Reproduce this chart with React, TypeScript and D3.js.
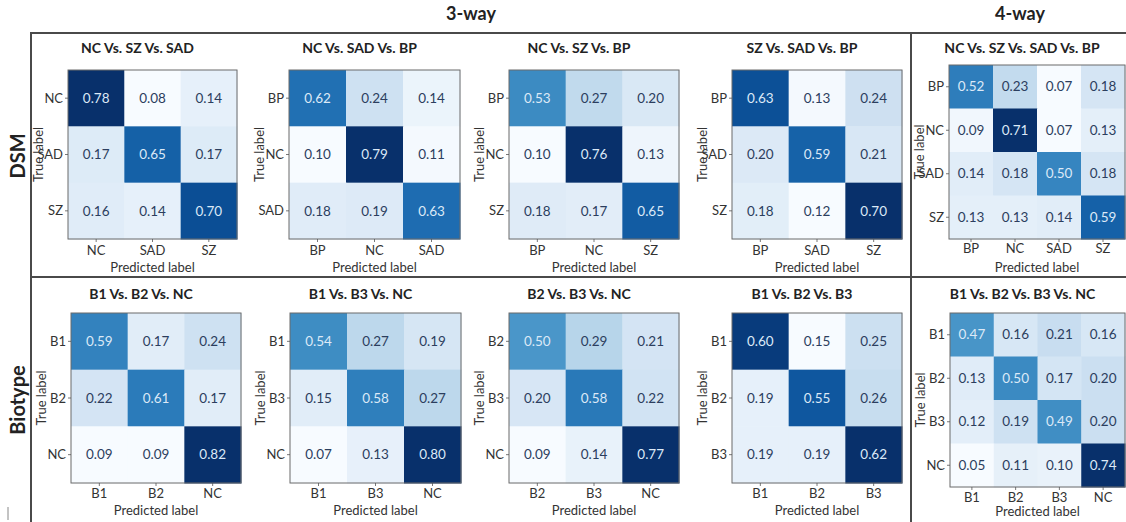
import React from "react";
import * as d3 from "d3";

// Confusion matrices (rows = true label, columns = predicted label)
const dsmTitles = [
  "NC Vs. SZ Vs. SAD",
  "NC Vs. SAD Vs. BP",
  "NC Vs. SZ Vs. BP",
  "SZ Vs. SAD Vs. BP",
  "NC Vs. SZ Vs. SAD Vs. BP",
];
const dsmLabels = [
  ["NC", "SAD", "SZ"],
  ["BP", "NC", "SAD"],
  ["BP", "NC", "SZ"],
  ["BP", "SAD", "SZ"],
  ["BP", "NC", "SAD", "SZ"],
];
const dsmValues = [
  [[0.78, 0.08, 0.14], [0.17, 0.65, 0.17], [0.16, 0.14, 0.70]],
  [[0.62, 0.24, 0.14], [0.10, 0.79, 0.11], [0.18, 0.19, 0.63]],
  [[0.53, 0.27, 0.20], [0.10, 0.76, 0.13], [0.18, 0.17, 0.65]],
  [[0.63, 0.13, 0.24], [0.20, 0.59, 0.21], [0.18, 0.12, 0.70]],
  [
    [0.52, 0.23, 0.07, 0.18],
    [0.09, 0.71, 0.07, 0.13],
    [0.14, 0.18, 0.50, 0.18],
    [0.13, 0.13, 0.14, 0.59],
  ],
];

const bioTitles = [
  "B1 Vs. B2 Vs. NC",
  "B1 Vs. B3 Vs. NC",
  "B2 Vs. B3 Vs. NC",
  "B1 Vs. B2 Vs. B3",
  "B1 Vs. B2 Vs. B3 Vs. NC",
];
const bioLabels = [
  ["B1", "B2", "NC"],
  ["B1", "B3", "NC"],
  ["B2", "B3", "NC"],
  ["B1", "B2", "B3"],
  ["B1", "B2", "B3", "NC"],
];
const bioValues = [
  [[0.59, 0.17, 0.24], [0.22, 0.61, 0.17], [0.09, 0.09, 0.82]],
  [[0.54, 0.27, 0.19], [0.15, 0.58, 0.27], [0.07, 0.13, 0.80]],
  [[0.50, 0.29, 0.21], [0.20, 0.58, 0.22], [0.09, 0.14, 0.77]],
  [[0.60, 0.15, 0.25], [0.19, 0.55, 0.26], [0.19, 0.19, 0.62]],
  [
    [0.47, 0.16, 0.21, 0.16],
    [0.13, 0.50, 0.17, 0.20],
    [0.12, 0.19, 0.49, 0.20],
    [0.05, 0.11, 0.10, 0.74],
  ],
];

const groupHeaders = ["3-way", "4-way"];
const rowHeaders = ["DSM", "Biotype"];

const W = 1126;
const H = 522;
const FONT = "Lato, 'Open Sans', sans-serif";
const INK = "#333";
const FRAME = "#4a4a4a";

type Box = { x: number; y: number; w: number; h: number; tickDy: number; xlabDy: number };

const topBoxes: Box[] = [
  { x: 68, y: 70, w: 169, h: 169, tickDy: 16, xlabDy: 33 },
  { x: 289, y: 70, w: 171, h: 169, tickDy: 16, xlabDy: 33 },
  { x: 509, y: 70, w: 170, h: 169, tickDy: 16, xlabDy: 33 },
  { x: 732, y: 70, w: 170, h: 169, tickDy: 16, xlabDy: 33 },
  { x: 949, y: 65, w: 176, h: 174, tickDy: 14, xlabDy: 33 },
];
const bottomBoxes: Box[] = [
  { x: 71, y: 313, w: 170, h: 170, tickDy: 15, xlabDy: 32 },
  { x: 290, y: 313, w: 171, h: 170, tickDy: 15, xlabDy: 32 },
  { x: 509, y: 313, w: 170, h: 170, tickDy: 15, xlabDy: 32 },
  { x: 732, y: 313, w: 170, h: 170, tickDy: 15, xlabDy: 32 },
  { x: 950, y: 313, w: 175, h: 174, tickDy: 15, xlabDy: 29 },
];

function Matrix({
  box,
  title,
  titleY,
  labels,
  values,
}: {
  box: Box;
  title: string;
  titleY: number;
  labels: string[];
  values: number[][];
}) {
  const xs = d3.scaleBand<string>().domain(labels).range([box.x, box.x + box.w]);
  const ys = d3.scaleBand<string>().domain(labels).range([box.y, box.y + box.h]);
  const flat = values.flat();
  const lo = d3.min(flat) as number;
  const hi = d3.max(flat) as number;
  const color = d3.scaleSequential(d3.interpolateBlues).domain([lo, hi]);
  const thresh = (lo + hi) / 2;
  const cx = box.x + box.w / 2;
  const cy = box.y + box.h / 2;

  return (
    <g>
      <text
        x={cx - 15}
        y={titleY}
        textAnchor="middle"
        fontFamily={FONT}
        fontWeight={700}
        fontSize={14}
        fill="#222"
      >
        {title}
      </text>
      {values.map((row, i) =>
        row.map((v, j) => (
          <rect
            key={`c${i}-${j}`}
            x={xs(labels[j])}
            y={ys(labels[i])}
            width={xs.bandwidth() + 0.5}
            height={ys.bandwidth() + 0.5}
            fill={color(v)}
          />
        ))
      )}
      {values.map((row, i) =>
        row.map((v, j) => (
          <text
            key={`t${i}-${j}`}
            x={(xs(labels[j]) as number) + xs.bandwidth() / 2}
            y={(ys(labels[i]) as number) + ys.bandwidth() / 2}
            dy="0.35em"
            textAnchor="middle"
            fontFamily={FONT}
            fontSize={13.5}
            fill={v < thresh ? "#2c3e5e" : "#dce9f7"}
          >
            {v.toFixed(2)}
          </text>
        ))
      )}
      <rect
        x={box.x}
        y={box.y}
        width={box.w}
        height={box.h}
        fill="none"
        stroke="#6b6b6b"
        strokeWidth={1}
      />
      {labels.map((l) => {
        const yy = (ys(l) as number) + ys.bandwidth() / 2;
        return (
          <g key={`y${l}`}>
            <line x1={box.x - 3} x2={box.x} y1={yy} y2={yy} stroke="#555" strokeWidth={0.8} />
            <text
              x={box.x - 5}
              y={yy}
              dy="0.35em"
              textAnchor="end"
              fontFamily={FONT}
              fontSize={13}
              fill={INK}
            >
              {l}
            </text>
          </g>
        );
      })}
      {labels.map((l) => {
        const xx = (xs(l) as number) + xs.bandwidth() / 2;
        return (
          <g key={`x${l}`}>
            <line
              x1={xx}
              x2={xx}
              y1={box.y + box.h}
              y2={box.y + box.h + 3}
              stroke="#555"
              strokeWidth={0.8}
            />
            <text
              x={xx}
              y={box.y + box.h + box.tickDy}
              textAnchor="middle"
              fontFamily={FONT}
              fontSize={13}
              fill={INK}
            >
              {l}
            </text>
          </g>
        );
      })}
      <text
        x={cx}
        y={box.y + box.h + box.xlabDy}
        textAnchor="middle"
        fontFamily={FONT}
        fontSize={13}
        fill={INK}
      >
        Predicted label
      </text>
      <text
        transform={`translate(${box.x - 30},${cy}) rotate(-90)`}
        dy="0.35em"
        textAnchor="middle"
        fontFamily={FONT}
        fontSize={13}
        fill={INK}
      >
        True label
      </text>
    </g>
  );
}

export default function App() {
  return (
    <svg
      width={W}
      height={H}
      style={{ position: "absolute", left: 0, top: 0, background: "#fff" }}
    >
      <rect x={0} y={0} width={W} height={H} fill="#fff" />
      {/* group headers */}
      <text x={471} y={20} textAnchor="middle" fontFamily={FONT} fontWeight={700} fontSize={18} fill="#222">
        {groupHeaders[0]}
      </text>
      <text x={1020} y={20} textAnchor="middle" fontFamily={FONT} fontWeight={700} fontSize={18} fill="#222">
        {groupHeaders[1]}
      </text>
      {/* row headers */}
      <text
        transform="translate(18,156) rotate(-90)"
        dy="0.35em"
        textAnchor="middle"
        fontFamily={FONT}
        fontWeight={700}
        fontSize={20}
        fill="#222"
      >
        {rowHeaders[0]}
      </text>
      <text
        transform="translate(18,400) rotate(-90)"
        dy="0.35em"
        textAnchor="middle"
        fontFamily={FONT}
        fontWeight={700}
        fontSize={20}
        fill="#222"
      >
        {rowHeaders[1]}
      </text>
      {/* frame lines */}
      <line x1={31} x2={W} y1={33} y2={33} stroke={FRAME} strokeWidth={2} />
      <line x1={31} x2={W} y1={277} y2={277} stroke={FRAME} strokeWidth={2} />
      <line x1={31} x2={31} y1={32} y2={H} stroke={FRAME} strokeWidth={2} />
      <line x1={911} x2={911} y1={32} y2={H} stroke={FRAME} strokeWidth={2} />
      <line x1={8} x2={8} y1={507} y2={520} stroke="#888" strokeWidth={1} />

      {dsmTitles.map((t, i) => (
        <Matrix
          key={`dsm${i}`}
          box={topBoxes[i]}
          title={t}
          titleY={53}
          labels={dsmLabels[i]}
          values={dsmValues[i]}
        />
      ))}
      {bioTitles.map((t, i) => (
        <Matrix
          key={`bio${i}`}
          box={bottomBoxes[i]}
          title={t}
          titleY={299}
          labels={bioLabels[i]}
          values={bioValues[i]}
        />
      ))}
    </svg>
  );
}
